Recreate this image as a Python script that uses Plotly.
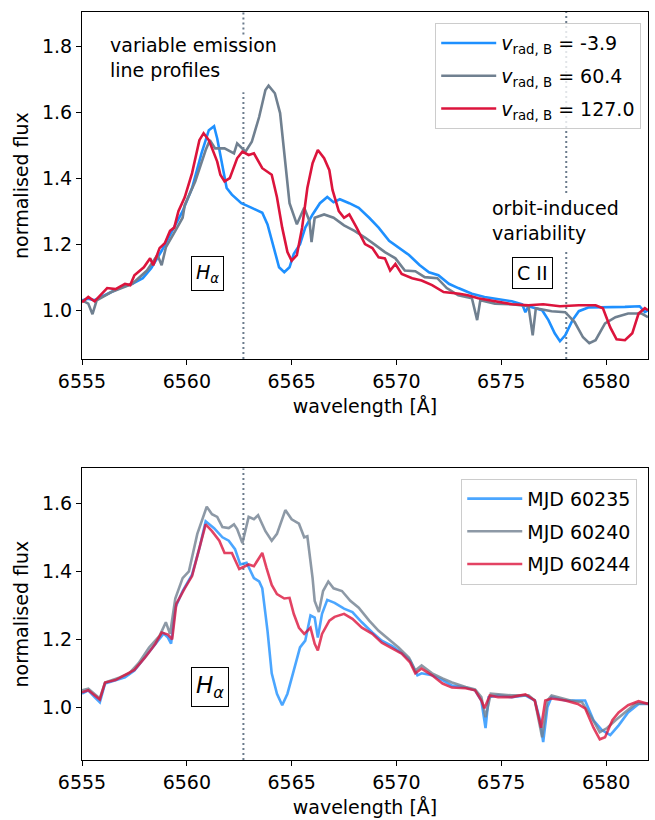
import plotly.graph_objects as go

# ---------------- data ----------------
# Top panel: three spectra labelled by radial velocity of component B
top_labels = ["<i>v</i><sub>rad, B</sub> = -3.9",
              "<i>v</i><sub>rad, B</sub> = 60.4",
              "<i>v</i><sub>rad, B</sub> = 127.0"]

top_blue_wl = [6555.0, 6555.3, 6555.6, 6555.95, 6556.4, 6556.9, 6557.4, 6557.9, 6558.3, 6558.8,
               6559.3, 6559.8, 6560.25, 6560.7, 6561.05, 6561.3, 6561.45, 6561.7, 6561.9, 6562.15,
               6562.6, 6563.1, 6563.6, 6563.85, 6564.15, 6564.4, 6564.65, 6564.9, 6565.1, 6565.4,
               6565.65, 6566.0, 6566.35, 6566.7, 6567.0, 6567.3, 6567.75, 6568.2, 6568.7, 6569.15,
               6569.65, 6570.1, 6570.6, 6571.1, 6571.55, 6572.0, 6572.5, 6572.95, 6573.6, 6574.2,
               6574.85, 6575.5, 6576.0, 6576.15, 6576.3, 6576.95, 6577.25, 6577.55, 6577.8, 6578.05,
               6578.4, 6578.7, 6579.15, 6579.95, 6580.9, 6581.6, 6581.85, 6582.0]
top_blue_fx = [1.03, 1.035, 1.03, 1.04, 1.055, 1.07, 1.08, 1.097, 1.127, 1.18,
               1.24, 1.30, 1.37, 1.475, 1.545, 1.557, 1.52, 1.43, 1.37, 1.35,
               1.324, 1.31, 1.295, 1.26, 1.19, 1.13, 1.115, 1.13, 1.17, 1.20,
               1.25, 1.29, 1.324, 1.343, 1.327, 1.336, 1.324, 1.31, 1.28, 1.25,
               1.21, 1.19, 1.167, 1.137, 1.115, 1.106, 1.08, 1.067, 1.05, 1.04,
               1.033, 1.027, 1.018, 0.994, 1.012, 1.0, 0.97, 0.93, 0.906, 0.924,
               0.97, 0.997, 1.008, 1.008, 1.01, 1.012, 0.994, 1.0]

top_gray_wl = [6555.0, 6555.3, 6555.5, 6555.7, 6556.4, 6557.4, 6558.1, 6558.6, 6558.8, 6559.0,
               6559.45, 6559.8, 6559.9, 6560.4, 6560.9, 6561.1, 6561.35, 6561.8, 6562.25, 6562.4,
               6562.8, 6563.1, 6563.45, 6563.75, 6563.9, 6564.2, 6564.45, 6564.7, 6564.9, 6565.25,
               6565.6, 6565.85, 6565.95, 6566.1, 6566.55, 6567.0, 6567.5, 6568.0, 6568.5, 6569.0,
               6569.45, 6569.95, 6570.4, 6570.9, 6571.35, 6571.95, 6572.4, 6572.95, 6573.6, 6573.85,
               6574.0, 6574.7, 6575.5, 6576.3, 6576.5, 6576.65, 6577.4, 6578.05, 6578.5, 6578.9,
               6579.2, 6579.5, 6579.95, 6580.45, 6581.05, 6581.7, 6582.0]
top_gray_fx = [1.03, 1.02, 0.988, 1.03, 1.055, 1.08, 1.12, 1.167, 1.136, 1.19,
               1.24, 1.28, 1.318, 1.39, 1.485, 1.515, 1.49, 1.49, 1.475, 1.505,
               1.48, 1.51, 1.585, 1.667, 1.68, 1.657, 1.597, 1.445, 1.324, 1.26,
               1.31, 1.27, 1.206, 1.28, 1.29, 1.28, 1.257, 1.24, 1.22, 1.197,
               1.176, 1.157, 1.12, 1.118, 1.10, 1.097, 1.067, 1.045, 1.036, 0.97,
               1.03, 1.02, 1.018, 1.012, 0.924, 1.006, 0.997, 0.994, 0.964, 0.918,
               0.90, 0.909, 0.96, 0.979, 0.99, 0.99, 0.979]

top_red_wl = [6555.0, 6555.3, 6555.6, 6556.2, 6556.6, 6557.05, 6557.3, 6557.5, 6557.95, 6558.25,
              6558.4, 6558.7, 6558.95, 6559.2, 6559.4, 6559.6, 6559.9, 6560.25, 6560.6, 6560.8,
              6561.05, 6561.3, 6561.45, 6561.6, 6561.8, 6562.05, 6562.4, 6562.65, 6562.95, 6563.2,
              6563.6, 6564.05, 6564.3, 6564.55, 6564.8, 6565.0, 6565.25, 6565.5, 6565.75, 6566.0,
              6566.25, 6566.55, 6566.8, 6566.95, 6567.25, 6567.5, 6567.75, 6568.1, 6568.5, 6568.85,
              6569.15, 6569.45, 6569.7, 6569.95, 6570.25, 6570.75, 6571.2, 6571.7, 6572.25, 6573.0,
              6573.4, 6573.9, 6574.7, 6575.5, 6576.3, 6577.0, 6577.8, 6578.7, 6579.5, 6579.85,
              6580.2, 6580.5, 6580.9, 6581.25, 6581.55, 6581.85, 6582.0]
top_red_fx = [1.024, 1.04, 1.027, 1.067, 1.064, 1.08, 1.076, 1.106, 1.13, 1.157,
              1.136, 1.188, 1.203, 1.24, 1.25, 1.30, 1.342, 1.415, 1.515, 1.536,
              1.515, 1.476, 1.45, 1.41, 1.39, 1.40, 1.46, 1.48, 1.47, 1.475,
              1.43, 1.41, 1.342, 1.25, 1.176, 1.15, 1.167, 1.25, 1.37, 1.445,
              1.485, 1.46, 1.424, 1.364, 1.30, 1.28, 1.29, 1.25, 1.20, 1.188,
              1.16, 1.157, 1.12, 1.14, 1.11, 1.097, 1.09, 1.076, 1.055, 1.05,
              1.045, 1.036, 1.027, 1.018, 1.015, 1.018, 1.012, 1.015, 1.015, 1.006,
              0.948, 0.912, 0.909, 0.93, 0.99, 1.006, 1.0]

# Bottom panel: three spectra labelled by MJD
bot_labels = ["MJD 60235", "MJD 60240", "MJD 60244"]

bot_blue_wl = [6555.0, 6555.3, 6555.6, 6555.85, 6556.1, 6556.6, 6557.05, 6557.5, 6558.0, 6558.5,
               6558.9, 6559.1, 6559.25, 6559.45, 6559.8, 6560.25, 6560.6, 6560.9, 6561.3, 6561.7,
               6562.0, 6562.3, 6562.55, 6562.85, 6563.2, 6563.45, 6563.6, 6563.75, 6563.85, 6564.05,
               6564.3, 6564.55, 6564.8, 6565.1, 6565.4, 6565.65, 6565.9, 6566.1, 6566.25, 6566.45,
               6566.7, 6567.05, 6567.5, 6567.9, 6568.35, 6568.85, 6569.3, 6569.8, 6570.25, 6570.65,
               6571.0, 6571.2, 6571.7, 6572.2, 6572.65, 6573.3, 6573.75, 6574.05, 6574.25, 6574.4,
               6574.85, 6575.5, 6576.15, 6576.6, 6576.85, 6577.0, 6577.2, 6577.4, 6578.05, 6579.0,
               6579.4, 6579.8, 6580.2, 6580.6, 6581.05, 6581.55, 6582.0]
bot_blue_fx = [1.04, 1.05, 1.03, 1.015, 1.07, 1.08, 1.088, 1.108, 1.146, 1.187,
               1.217, 1.205, 1.187, 1.293, 1.342, 1.39, 1.468, 1.547, 1.527, 1.50,
               1.49, 1.465, 1.42, 1.425, 1.38, 1.37, 1.35, 1.275, 1.225, 1.10,
               1.04, 1.006, 1.04, 1.108, 1.176, 1.196, 1.27, 1.264, 1.205, 1.275,
               1.316, 1.307, 1.29, 1.28, 1.25, 1.22, 1.196, 1.18, 1.16, 1.138,
               1.094, 1.10, 1.094, 1.08, 1.064, 1.058, 1.05, 1.02, 0.939, 1.03,
               1.035, 1.03, 1.035, 1.02, 0.962, 0.898, 1.0, 1.03, 1.02, 1.02,
               0.962, 0.933, 0.918, 0.947, 0.985, 1.01, 1.01]

bot_gray_wl = [6555.0, 6555.3, 6555.85, 6556.1, 6556.8, 6557.25, 6557.7, 6558.2, 6558.7, 6559.0,
               6559.2, 6559.45, 6559.8, 6560.1, 6560.5, 6560.95, 6561.2, 6561.45, 6561.7, 6562.0,
               6562.25, 6562.4, 6562.65, 6562.95, 6563.2, 6563.4, 6563.75, 6564.05, 6564.3, 6564.45,
               6564.7, 6565.0, 6565.35, 6565.6, 6565.75, 6566.0, 6566.1, 6566.3, 6566.5, 6566.75,
               6567.0, 6567.4, 6567.8, 6568.2, 6568.7, 6569.15, 6569.65, 6570.1, 6570.6, 6570.9,
               6571.2, 6571.7, 6572.2, 6572.65, 6573.3, 6573.75, 6574.05, 6574.25, 6574.5, 6575.5,
               6576.3, 6576.6, 6576.95, 6577.2, 6577.4, 6578.3, 6578.85, 6579.3, 6579.7, 6580.05,
               6580.45, 6580.9, 6581.4, 6582.0]
bot_gray_fx = [1.05, 1.055, 1.026, 1.073, 1.088, 1.10, 1.13, 1.176, 1.21, 1.25,
               1.216, 1.32, 1.38, 1.40, 1.51, 1.59, 1.568, 1.56, 1.53, 1.527,
               1.538, 1.524, 1.483, 1.56, 1.553, 1.565, 1.518, 1.49, 1.51, 1.538,
               1.58, 1.553, 1.54, 1.50, 1.503, 1.38, 1.313, 1.28, 1.342, 1.37,
               1.35, 1.342, 1.313, 1.293, 1.255, 1.225, 1.20, 1.176, 1.146, 1.108,
               1.123, 1.10, 1.085, 1.073, 1.06, 1.053, 1.03, 0.971, 1.04, 1.035,
               1.035, 1.02, 0.912, 1.02, 1.035, 1.02, 1.015, 0.971, 0.927, 0.939,
               0.962, 0.985, 1.01, 1.012]

bot_red_wl = [6555.0, 6555.3, 6555.85, 6556.1, 6556.6, 6557.05, 6557.5, 6558.0, 6558.5, 6558.8,
              6559.1, 6559.3, 6559.5, 6559.9, 6560.25, 6560.6, 6560.9, 6561.2, 6561.55, 6561.8,
              6562.15, 6562.5, 6562.75, 6562.95, 6563.2, 6563.6, 6563.8, 6564.05, 6564.3, 6564.65,
              6564.9, 6565.1, 6565.35, 6565.6, 6565.9, 6566.1, 6566.25, 6566.45, 6566.8, 6567.05,
              6567.5, 6567.9, 6568.35, 6568.85, 6569.3, 6569.8, 6570.25, 6570.65, 6570.9, 6571.2,
              6571.7, 6572.2, 6572.65, 6573.3, 6573.75, 6574.05, 6574.2, 6574.45, 6574.85, 6575.5,
              6576.15, 6576.6, 6576.9, 6577.1, 6577.4, 6578.05, 6578.65, 6579.0, 6579.4, 6579.7,
              6579.95, 6580.3, 6580.6, 6581.05, 6581.55, 6582.0]
bot_red_fx = [1.044, 1.05, 1.023, 1.073, 1.08, 1.094, 1.11, 1.146, 1.187, 1.22,
              1.214, 1.20, 1.304, 1.35, 1.386, 1.468, 1.538, 1.518, 1.49, 1.454,
              1.454, 1.407, 1.415, 1.42, 1.415, 1.454, 1.41, 1.36, 1.333, 1.32,
              1.322, 1.275, 1.234, 1.216, 1.234, 1.187, 1.167, 1.216, 1.255, 1.266,
              1.275, 1.26, 1.234, 1.216, 1.19, 1.173, 1.158, 1.132, 1.10, 1.114,
              1.094, 1.07, 1.058, 1.056, 1.05, 1.02, 0.997, 1.035, 1.03, 1.03,
              1.038, 1.02, 0.94, 1.02, 1.026, 1.02, 1.01, 0.997, 0.94, 0.906,
              0.912, 0.962, 0.985, 1.006, 1.018, 1.01]

x_ticks = [6555, 6560, 6565, 6570, 6575, 6580]
top_y_ticks = [1.0, 1.2, 1.4, 1.6, 1.8]
bot_y_ticks = [1.0, 1.2, 1.4, 1.6]
line_halpha = 6562.7
line_cii = 6578.1

# ---------------- styling ----------------
FONT = "DejaVu Sans"
FS = 19
top_colors = ["#1e90ff", "#708090", "#dc143c"]
bot_colors = ["rgba(30,144,255,0.8)", "rgba(112,128,144,0.8)", "rgba(220,20,60,0.8)"]
LW = 2.6
TOP_RANGE = [0.852, 1.903]
BOT_RANGE = [0.845, 1.703]

fig = go.Figure()

for i, (wl, fx, name, col) in enumerate(zip([top_blue_wl, top_gray_wl, top_red_wl],
                                            [top_blue_fx, top_gray_fx, top_red_fx],
                                            top_labels, top_colors)):
    fig.add_trace(go.Scatter(x=wl, y=fx, mode="lines", name=name,
                             line=dict(color=col, width=LW), legendgroup=f"t{i}",
                             xaxis="x", yaxis="y", legend="legend"))

for i, (wl, fx, name, col) in enumerate(zip([bot_blue_wl, bot_gray_wl, bot_red_wl],
                                            [bot_blue_fx, bot_gray_fx, bot_red_fx],
                                            bot_labels, bot_colors)):
    fig.add_trace(go.Scatter(x=wl, y=fx, mode="lines", name=name,
                             line=dict(color=col, width=LW), legendgroup=f"b{i}",
                             xaxis="x2", yaxis="y2", legend="legend2"))

axis_common = dict(showline=True, linecolor="black", linewidth=1, mirror=True,
                   ticks="outside", ticklen=5, tickwidth=1, tickcolor="black",
                   showgrid=False, zeroline=False, automargin=False,
                   tickfont=dict(family=FONT, size=FS, color="black"))

fig.update_layout(
    width=655, height=820, autosize=False,
    margin=dict(l=82, r=7, t=12, b=60),
    paper_bgcolor="white", plot_bgcolor="white",
    font=dict(family=FONT, size=FS, color="black"),
    xaxis=dict(domain=[0, 1], anchor="y", range=[6555, 6582], tickvals=x_ticks,
               title=dict(text="wavelength [Å]", standoff=8,
                          font=dict(family=FONT, size=FS)), **axis_common),
    yaxis=dict(domain=[0.536, 1], anchor="x", range=TOP_RANGE, tickvals=top_y_ticks,
               tickformat=".1f",
               title=dict(text="normalised flux", standoff=8,
                          font=dict(family=FONT, size=FS)), **axis_common),
    xaxis2=dict(domain=[0, 1], anchor="y2", range=[6555, 6582], tickvals=x_ticks,
                title=dict(text="wavelength [Å]", standoff=8,
                           font=dict(family=FONT, size=FS)), **axis_common),
    yaxis2=dict(domain=[0, 0.39], anchor="x2", range=BOT_RANGE, tickvals=bot_y_ticks,
                tickformat=".1f",
                title=dict(text="normalised flux", standoff=8,
                           font=dict(family=FONT, size=FS)), **axis_common),
    legend=dict(x=0.988, y=0.985, xanchor="right", yanchor="top", itemwidth=55,
                bgcolor="rgba(255,255,255,0.8)", bordercolor="#cccccc", borderwidth=1,
                font=dict(family=FONT, size=FS), tracegroupgap=5),
    legend2=dict(x=0.981, y=0.376, xanchor="right", yanchor="top", itemwidth=55,
                 bgcolor="rgba(255,255,255,0.8)", bordercolor="#cccccc", borderwidth=1,
                 font=dict(family=FONT, size=FS), tracegroupgap=5),
    showlegend=True,
)

# dotted rest-wavelength markers (gaps where the text labels sit)
dot = dict(color="#6b7b8c", width=2, dash="2px,3px")
segments = [
    ("x", "y", line_halpha, TOP_RANGE[0], 1.66),
    ("x", "y", line_halpha, 1.835, TOP_RANGE[1]),
    ("x", "y", line_cii, TOP_RANGE[0], 1.185),
    ("x", "y", line_cii, 1.355, TOP_RANGE[1]),
    ("x2", "y2", line_halpha, BOT_RANGE[0], BOT_RANGE[1]),
]
for xr, yr, xv, y0, y1 in segments:
    fig.add_shape(type="line", xref=xr, yref=yr, x0=xv, x1=xv, y0=y0, y1=y1,
                  line=dot, layer="below")

# text annotations
fig.add_annotation(xref="x", yref="y", x=6556.3, y=1.84, xanchor="left", yanchor="top",
                   text="variable emission<br>line profiles", showarrow=False, align="left",
                   borderpad=0, font=dict(family=FONT, size=FS))
fig.add_annotation(xref="x", yref="y", x=6574.5, y=1.345, xanchor="left", yanchor="top",
                   text="orbit-induced<br>variability", showarrow=False, align="left",
                   borderpad=0, font=dict(family=FONT, size=FS))
fig.add_annotation(xref="x", yref="y", x=6561.0, y=1.112, xanchor="center", yanchor="middle",
                   text="<i>H</i><sub><i>α</i></sub>", showarrow=False,
                   bgcolor="white", bordercolor="black", borderwidth=1, borderpad=4,
                   font=dict(family=FONT, size=FS))
fig.add_annotation(xref="x", yref="y", x=6576.5, y=1.112, xanchor="center", yanchor="middle",
                   text="C II", showarrow=False,
                   bgcolor="white", bordercolor="black", borderwidth=1, borderpad=4,
                   font=dict(family=FONT, size=FS))
fig.add_annotation(xref="x2", yref="y2", x=6561.1, y=1.06, xanchor="center", yanchor="middle",
                   text="<i>H</i><sub><i>α</i></sub>", showarrow=False,
                   bgcolor="white", bordercolor="black", borderwidth=1, borderpad=4,
                   font=dict(family=FONT, size=23))

fig.write_html("out.html", config={"displayModeBar": False},
               post_script="document.body.style.margin='0';")
